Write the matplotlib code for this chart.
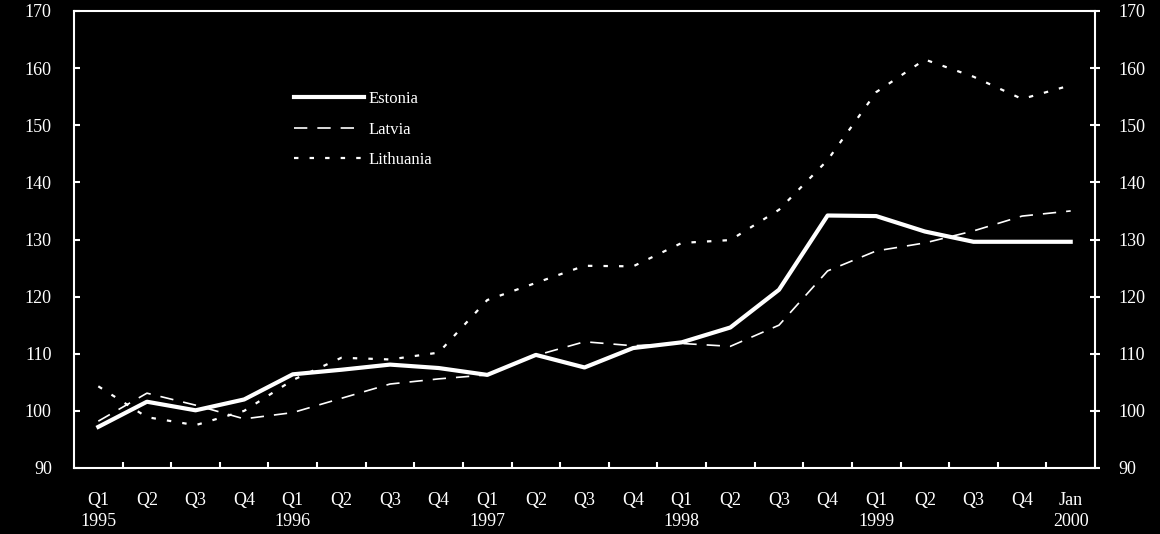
import matplotlib.pyplot as plt
from matplotlib.ticker import FixedLocator

# Quarterly index values, Q1 1995 .. Q4 1999, then Jan 2000
quarters = ['Q1', 'Q2', 'Q3', 'Q4'] * 5 + ['Jan']
years = {0: '1995', 4: '1996', 8: '1997', 12: '1998', 16: '1999', 20: '2000'}

estonia = [97.2, 101.6, 100.1, 102.0, 106.4, 107.2, 108.1, 107.5, 106.3, 109.8, 107.6,
           111.0, 112.0, 114.6, 121.2, 134.2, 134.1, 131.4, 129.6, 129.6, 129.6]
latvia = [98.2, 103.1, 101.0, 98.6, 99.7, 102.2, 104.7, 105.6, 106.3, 109.7, 112.1,
          111.4, 111.8, 111.3, 115.0, 124.5, 128.0, 129.4, 131.5, 134.1, 135.0]
lithuania = [104.3, 98.9, 97.5, 100.0, 105.4, 109.3, 109.0, 110.2, 119.4, 122.4, 125.4,
             125.3, 129.4, 129.9, 135.2, 143.9, 155.8, 161.5, 158.5, 154.6, 157.0]

plt.rcParams['font.family'] = ['Liberation Serif', 'DejaVu Serif']

fig = plt.figure(figsize=(11.6, 5.34), dpi=100, facecolor='black')
ax = fig.add_axes([74 / 1160, 1 - 468 / 534, 1021 / 1160, 457 / 534])
ax.set_facecolor('black')

x = range(len(quarters))
ax.plot(x, estonia, color='white', lw=3, label='Estonia')
ax.plot(x, latvia, color='white', lw=1.2, dashes=(8, 6), label='Latvia')
ax.plot(x, lithuania, color='white', lw=1.6, dashes=(2, 5), label='Lithuania')

ax.set_xlim(-0.5, len(quarters) - 0.5)
ax.set_ylim(90, 170)
ax.set_yticks(range(90, 171, 10))

# category labels at centres, tick marks on the boundaries
ax.set_xticks(list(x))
ax.set_xticklabels([q + '\n' + years.get(i, '') for i, q in enumerate(quarters)],
                   linespacing=1.35)
ax.xaxis.set_minor_locator(FixedLocator([i + 0.5 for i in range(len(quarters) - 1)]))
ax.tick_params(axis='x', which='major', length=0, pad=17, colors='white', labelsize=13)
ax.tick_params(axis='x', which='minor', direction='in', length=4, width=1.5, color='white')
ax.tick_params(axis='y', direction='in', length=4, width=1.5, colors='white',
               labelsize=13, pad=16)

for side in ['left', 'right', 'top', 'bottom']:
    ax.spines[side].set_color('white')
    ax.spines[side].set_linewidth(1.5)

ax2 = ax.twinx()
ax2.set_ylim(90, 170)
ax2.set_yticks(range(90, 171, 10))
ax2.tick_params(axis='y', direction='inout', length=7, width=1.5, colors='white',
                labelsize=13, pad=13)
for side in ['left', 'right', 'top', 'bottom']:
    ax2.spines[side].set_visible(False)

leg = ax.legend(loc='upper left', bbox_to_anchor=(0.207, 0.8425), frameon=False,
                fontsize=12, handlelength=4.2, handletextpad=0.3, labelspacing=0.87,
                borderpad=0)
for t in leg.get_texts():
    t.set_color('white')

plt.savefig('out.png', dpi=100, facecolor='black')
